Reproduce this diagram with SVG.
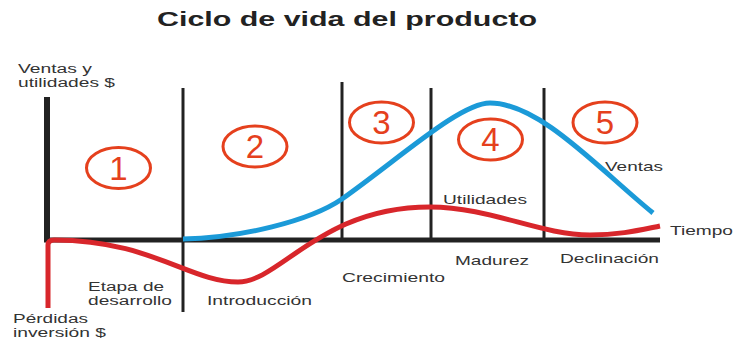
<svg xmlns="http://www.w3.org/2000/svg" width="734" height="339" viewBox="0 0 734 339">
<style>
.lbl{font-family:"Liberation Sans",Arial,sans-serif;font-size:13.5px;fill:#333}
.st{font-size:12.5px}
.ttl{font-family:"Liberation Sans",Arial,sans-serif;font-size:20px;font-weight:bold;fill:#222}
.ring{fill:none;stroke:#e5401d;stroke-width:3}
.num{font-family:"Liberation Sans",Arial,sans-serif;font-size:33px;fill:#e5401d;text-anchor:middle}
.ax{stroke:#222;fill:none}
.ph{stroke:#222;stroke-width:3;fill:none}
.sales{stroke:#1b9ad8;stroke-width:5;fill:none;stroke-linecap:butt}
.profit{stroke:#d8262b;stroke-width:5;fill:none;stroke-linejoin:round}
</style>
<rect width="734" height="339" fill="#fff"/>
<text id="title" class="ttl" x="157" y="26" textLength="380" lengthAdjust="spacingAndGlyphs">Ciclo de vida del producto</text>

<g id="axes">
<line class="ax" x1="47" y1="97" x2="47" y2="242" stroke-width="6"/>
<line class="ax" x1="44" y1="240" x2="660" y2="240" stroke-width="5"/>
</g>

<g id="phase-lines">
<line class="ph" x1="183" y1="88" x2="183" y2="312"/>
<line class="ph" x1="342" y1="82" x2="342" y2="240"/>
<line class="ph" x1="431" y1="88" x2="431" y2="240"/>
<line class="ph" x1="544" y1="88" x2="544" y2="240"/>
</g>

<g id="connectors">
<path id="ventas-curve" class="sales" d="M183,239 C240,238 310,221 342,199 C400,158 460,103 490,103 C540,103 600,170 653,213"/>
<path id="utilidades-curve" class="profit" d="M48,308 L48,245 Q48,240 54,240 C150,240 190,282 238,282 C280,282 320,207 430,207 C490,207 540,235 590,235 C620,235 640,230 660,226"/>
</g>

<g id="phase-1"><ellipse class="ring" cx="118.5" cy="168" rx="32" ry="20.5"/><text class="num" x="118.5" y="180">1</text></g>
<g id="phase-2"><ellipse class="ring" cx="255" cy="146.5" rx="32" ry="20.5"/><text class="num" x="255" y="158">2</text></g>
<g id="phase-3"><ellipse class="ring" cx="381.5" cy="122.5" rx="32" ry="20.5"/><text class="num" x="381.5" y="134">3</text></g>
<g id="phase-4"><ellipse class="ring" cx="490.5" cy="139.5" rx="32" ry="20.5"/><text class="num" x="490.5" y="151">4</text></g>
<g id="phase-5"><ellipse class="ring" cx="605" cy="122.5" rx="32" ry="20.5"/><text class="num" x="605" y="134">5</text></g>

<g id="labels">
<text class="lbl st" x="18" y="73" textLength="74" lengthAdjust="spacingAndGlyphs">Ventas y</text>
<text class="lbl st" x="18" y="87" textLength="97" lengthAdjust="spacingAndGlyphs">utilidades $</text>
<text class="lbl st" x="88" y="291" textLength="76" lengthAdjust="spacingAndGlyphs">Etapa de</text>
<text class="lbl st" x="88" y="305" textLength="84" lengthAdjust="spacingAndGlyphs">desarrollo</text>
<text class="lbl st" x="13" y="323" textLength="75" lengthAdjust="spacingAndGlyphs">Pérdidas</text>
<text class="lbl st" x="13" y="337" textLength="93" lengthAdjust="spacingAndGlyphs">inversión $</text>
<text class="lbl" x="207" y="305" textLength="105" lengthAdjust="spacingAndGlyphs">Introducción</text>
<text class="lbl" x="342" y="282" textLength="103" lengthAdjust="spacingAndGlyphs">Crecimiento</text>
<text class="lbl" x="455" y="265" textLength="74" lengthAdjust="spacingAndGlyphs">Madurez</text>
<text class="lbl" x="560" y="263" textLength="99" lengthAdjust="spacingAndGlyphs">Declinación</text>
<text class="lbl" x="670" y="235" textLength="63" lengthAdjust="spacingAndGlyphs">Tiempo</text>
<text class="lbl" x="443" y="204" textLength="84" lengthAdjust="spacingAndGlyphs">Utilidades</text>
<text class="lbl" x="605" y="171" textLength="58" lengthAdjust="spacingAndGlyphs">Ventas</text>
</g>
</svg>
